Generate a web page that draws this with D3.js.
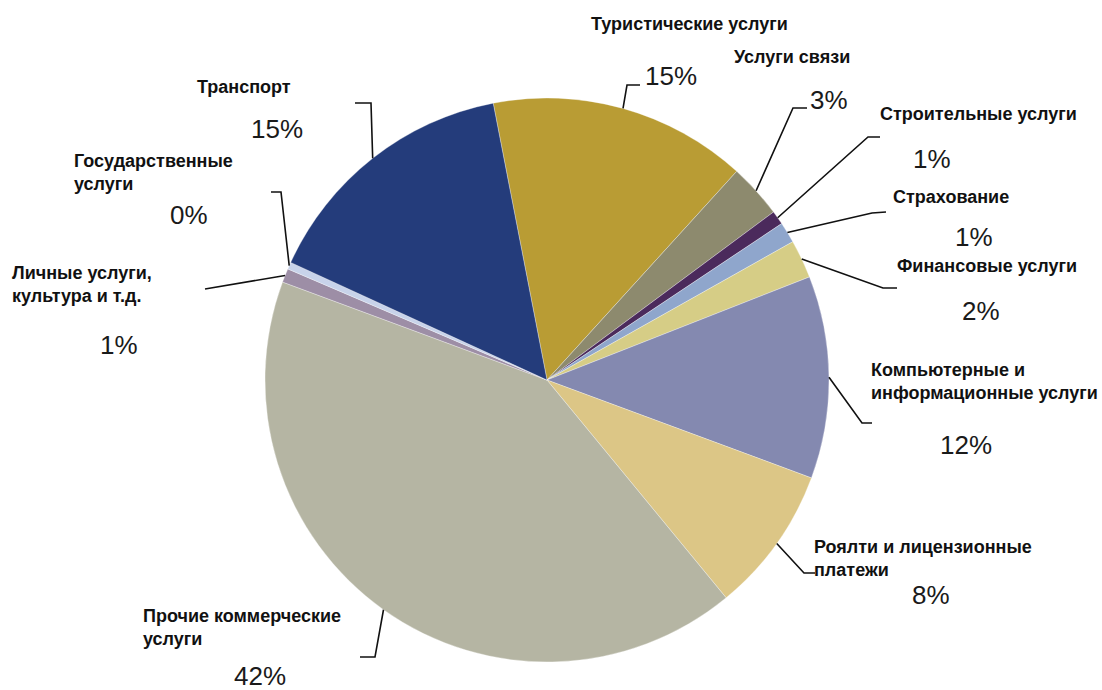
<!DOCTYPE html>
<html>
<head>
<meta charset="utf-8">
<script src="https://cdn.jsdelivr.net/npm/d3@7"></script>
<style>
  html, body { margin: 0; padding: 0; background: #ffffff; }
  svg { display: block; }
  .name { font-family: "Liberation Sans", Arial, sans-serif; font-weight: bold; font-size: 18px; fill: #111; }
  .pct { font-family: "Liberation Sans", Arial, sans-serif; font-size: 26px; fill: #1a1a1a; }
</style>
</head>
<body>
<svg id="chart" width="1102" height="690"></svg>
<script>
// ---- data ----
const categories = [
  "Туристические услуги",
  "Услуги связи",
  "Строительные услуги",
  "Страхование",
  "Финансовые услуги",
  "Компьютерные и информационные услуги",
  "Роялти и лицензионные платежи",
  "Прочие коммерческие услуги",
  "Личные услуги, культура и т.д.",
  "Государственные услуги",
  "Транспорт"
];
const labelLines = [
  ["Туристические услуги"],
  ["Услуги связи"],
  ["Строительные услуги"],
  ["Страхование"],
  ["Финансовые услуги"],
  ["Компьютерные и", "информационные услуги"],
  ["Роялти и лицензионные", "платежи"],
  ["Прочие коммерческие", "услуги"],
  ["Личные услуги,", "культура и т.д."],
  ["Государственные", "услуги"],
  ["Транспорт"]
];
const shares = [14.8, 3.1, 0.8, 1.2, 2.2, 11.6, 8.4, 41.6, 0.8, 0.4, 15.1];
const colors = ["#b99c34", "#8d8a6e", "#4b2a5c", "#8fa6cc", "#d6cd86", "#8489b0",
                "#dcc686", "#b5b5a3", "#9d8ea6", "#c8d3ea", "#243c7b"];

// ---- layout (label placement) ----
const layout = [
  { nx: 591, ny: 30,  px: 645, py: 85,  elbow: [627, 85],  end: [640, 85] },
  { nx: 734, ny: 63,  px: 810, py: 109, elbow: [793, 108], end: [807, 108] },
  { nx: 880, ny: 120, px: 913, py: 168, elbow: [868, 137], end: [880, 137] },
  { nx: 893, ny: 203, px: 955, py: 246, elbow: [872, 213], end: [886, 212] },
  { nx: 897, ny: 272, px: 962, py: 320, elbow: [883, 288], end: [897, 288] },
  { nx: 871, ny: 376, px: 940, py: 454, elbow: [862, 423], end: [872, 423] },
  { nx: 814, ny: 553, px: 912, py: 604, elbow: [804, 573], end: [815, 573] },
  { nx: 143, ny: 622, px: 234, py: 685, elbow: [375, 657], end: [360, 657] },
  { nx: 12,  ny: 279, px: 100, py: 354, elbow: [205, 289], end: [205, 289] },
  { nx: 74,  ny: 167, px: 170, py: 224, elbow: [281, 192], end: [271, 192] },
  { nx: 197, ny: 93,  px: 251, py: 138, elbow: [371, 103], end: [355, 103] }
];

const cx = 547, cy = 380, R = 282;
const startDeg = -11;
const lineGap = 23;

const svg = d3.select("#chart");
const g = svg.append("g").attr("transform", `translate(${cx},${cy})`);

const pie = d3.pie()
  .value(d => d)
  .sort(null)
  .startAngle(startDeg * Math.PI / 180)
  .endAngle(startDeg * Math.PI / 180 + 2 * Math.PI);
const arcs = pie(shares);
const arc = d3.arc().innerRadius(0).outerRadius(R);
const color = d3.scaleOrdinal().domain(d3.range(shares.length)).range(colors);

g.selectAll("path.slice")
  .data(arcs)
  .join("path")
  .attr("class", "slice")
  .attr("d", arc)
  .attr("fill", (d, i) => color(i))
  .attr("stroke", "rgba(255,255,255,0.45)")
  .attr("stroke-width", 0.7);

// leader lines
const edge = d => {
  const a = (d.startAngle + d.endAngle) / 2;
  return [cx + R * Math.sin(a), cy - R * Math.cos(a)];
};
const line = d3.line();
svg.selectAll("path.leader")
  .data(arcs)
  .join("path")
  .attr("class", "leader")
  .attr("d", (d, i) => line([edge(d), layout[i].elbow, layout[i].end]))
  .attr("fill", "none")
  .attr("stroke", "#111")
  .attr("stroke-width", 1.6);

// names
const names = svg.selectAll("text.name")
  .data(labelLines)
  .join("text")
  .attr("class", "name")
  .attr("x", (d, i) => layout[i].nx)
  .attr("y", (d, i) => layout[i].ny);
names.selectAll("tspan")
  .data(d => d)
  .join("tspan")
  .attr("x", function () { return d3.select(this.parentNode).attr("x"); })
  .attr("dy", (d, j) => j === 0 ? 0 : lineGap)
  .text(d => d);

// percentages
svg.selectAll("text.pct")
  .data(shares)
  .join("text")
  .attr("class", "pct")
  .attr("x", (d, i) => layout[i].px)
  .attr("y", (d, i) => layout[i].py)
  .text(d => Math.round(d) + "%");
</script>
</body>
</html>
